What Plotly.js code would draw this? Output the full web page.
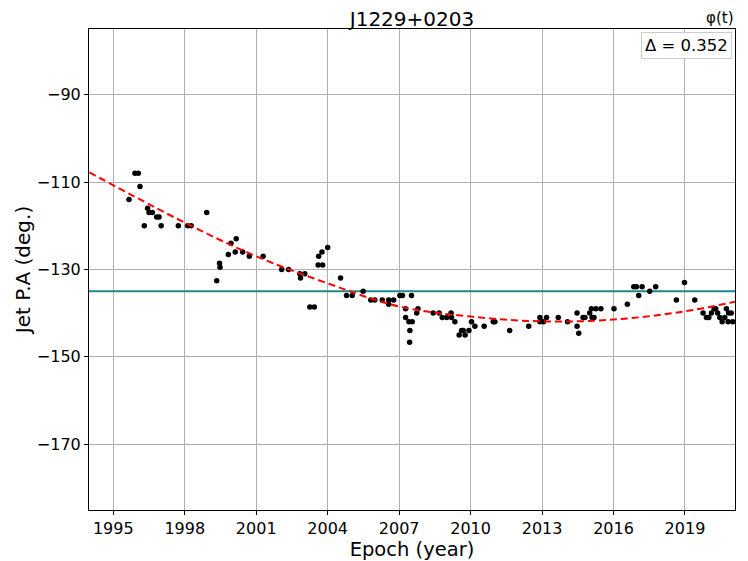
<!DOCTYPE html>
<html>
<head>
<meta charset="utf-8">
<script src="https://cdn.plot.ly/plotly-3.0.1.min.js"></script>
<style>html,body{margin:0;padding:0;background:#fff;}#chart{width:748px;height:561px;}</style>
</head>
<body>
<div id="chart"></div>
<script>
// Observed jet position angles
const epochs = [
  1995.66,1995.91,1996.05,1996.12,1996.30,1996.44,1996.50,1996.64,1996.82,1996.92,
  1997.01,1997.73,1998.12,1998.27,1998.92,1999.34,1999.46,1999.48,1999.83,1999.94,
  2000.12,2000.16,2000.43,2000.71,2001.29,2002.07,2002.36,2002.83,2002.86,2003.04,
  2003.25,2003.44,2003.60,2003.62,2003.76,2003.79,2004.00,2004.54,2004.79,2005.03,
  2005.49,2005.81,2005.98,2006.29,2006.56,2006.56,2006.77,2007.03,2007.14,2007.27,
  2007.27,2007.41,2007.44,2007.45,2007.52,2007.55,2007.74,2007.79,2008.43,2008.68,
  2008.81,2009.00,2009.18,2009.20,2009.34,2009.52,2009.62,2009.69,2009.77,2009.93,
  2010.04,2010.18,2010.57,2010.95,2011.02,2011.64,2012.44,2012.91,2012.91,2013.06,
  2013.19,2013.68,2014.07,2014.47,2014.47,2014.54,2014.72,2014.80,2015.00,2015.07,
  2015.10,2015.18,2015.26,2015.47,2016.02,2016.58,2016.85,2016.96,2017.06,2017.20,
  2017.52,2017.77,2018.64,2018.98,2019.41,2019.76,2019.90,2020.00,2020.11,2020.22,
  2020.29,2020.37,2020.46,2020.56,2020.67,2020.74,2020.81,2020.83,2020.94,2021.00
];
const jetPA = [
  -114,-108,-108,-111,-120,-116,-117,-117,-118,-118,
  -120,-120,-120,-120,-117,-132.6,-128.6,-129.5,-126.6,-124,
  -126,-123,-126,-127,-127,-130,-130,-131,-132,-131,
  -138.6,-138.6,-129,-127,-126,-129,-125,-132,-136,-136,
  -135,-137,-137,-137,-137,-138,-137,-136,-136,-139,
  -141,-142,-146.7,-144,-136,-142,-140,-139,-140,-140,
  -141,-141,-140,-141,-142,-145,-144,-144,-145,-144,
  -142,-143,-143,-142,-142,-144,-143,-141,-142,-142,
  -141,-141,-142,-140,-143,-144.6,-141,-141,-140,-139,
  -141,-141,-139,-139,-139,-138,-134,-134,-136,-134,
  -135,-134,-137,-133,-137,-140,-141,-141,-140,-139,
  -139,-140,-141,-142,-141,-139,-142,-140,-140,-142
];
// Fitted trend phi(t)
const fitYears = [1994.0, 1998.0, 2001.0, 2004.0, 2007.0, 2010.0, 2013.0, 2016.0, 2019.0, 2021.1];
const fitPA    = [-107.8, -119.3, -127.0, -133.2, -138.5, -140.8, -141.9, -141.5, -139.6, -137.4];
// Reference (mean) position angle
const refPA = -135;
const xRange = [1993.98, 2021.1];
const yRange = [-185.1, -74.95];
const xTicks = [1995, 1998, 2001, 2004, 2007, 2010, 2013, 2016, 2019];
const yTicks = [-90, -110, -130, -150, -170];
const chartTitle = 'J1229+0203';
const legendText = 'Δ = 0.352';

const F = 'DejaVu Sans, sans-serif';
const traces = [
  {x: xRange, y: [refPA, refPA], mode: 'lines', line: {color: '#1b8a8a', width: 2}, hoverinfo: 'skip'},
  {x: epochs, y: jetPA, mode: 'markers', marker: {color: '#000', size: 5.5}},
  {x: fitYears, y: fitPA, mode: 'lines', line: {color: '#ff0000', width: 2, dash: '7px,4px', shape: 'spline', smoothing: 1}}
];
const axisBase = {
  showline: true, mirror: true, linecolor: '#000', linewidth: 1,
  showgrid: true, gridcolor: '#b0b0b0', gridwidth: 1, zeroline: false,
  ticks: 'outside', ticklen: 4, tickcolor: '#000',
  tickfont: {family: F, size: 16, color: '#000'}
};
const layout = {
  width: 748, height: 561,
  margin: {l: 89, r: 13, t: 29, b: 51},
  paper_bgcolor: '#fff', plot_bgcolor: '#fff',
  showlegend: false,
  title: {text: chartTitle, font: {family: F, size: 20, color: '#000'}, x: 0.5508, xanchor: 'center', y: 0.966, yanchor: 'middle'},
  xaxis: Object.assign({}, axisBase, {
    range: xRange, tickmode: 'array', tickvals: xTicks, ticktext: xTicks.map(String),
    automargin: false,
    title: {text: 'Epoch (year)', font: {family: F, size: 19.5, color: '#000'}, standoff: 0}
  }),
  yaxis: Object.assign({}, axisBase, {
    range: yRange, tickmode: 'array', tickvals: yTicks, ticktext: yTicks.map(v => '\u2212' + Math.abs(v)),
    automargin: true,
    title: {text: 'Jet P.A (deg.)', font: {family: F, size: 20, color: '#000'}, standoff: 0}
  }),
  annotations: [
    {xref: 'paper', yref: 'paper', x: 1, y: 1, xanchor: 'right', yanchor: 'bottom', yshift: 0,
     text: 'φ(t)', showarrow: false, font: {family: F, size: 15, color: '#000'}},
    {xref: 'paper', yref: 'paper', x: 1, y: 1, xanchor: 'right', yanchor: 'top', xshift: -3, yshift: -3,
     text: legendText, showarrow: false, font: {family: F, size: 16.5, color: '#000'},
     bgcolor: 'rgba(255,255,255,0.85)', bordercolor: '#cccccc', borderwidth: 1, borderpad: 3}
  ]
};
Plotly.newPlot('chart', traces, layout, {staticPlot: true, displayModeBar: false});
</script>
</body>
</html>
